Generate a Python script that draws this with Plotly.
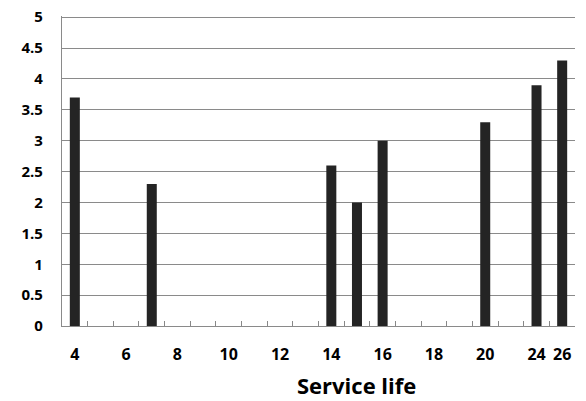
import plotly.graph_objects as go

categories = ["4", "5", "6", "7", "8", "9", "10", "11", "12", "13", "14", "15",
              "16", "17", "18", "19", "20", "22", "24", "26"]
bar_x = ["4", "7", "14", "15", "16", "20", "24", "26"]
bar_y = [3.7, 2.3, 2.6, 2.0, 3.0, 3.3, 3.9, 4.3]
tick_labels = ["4", "", "6", "", "8", "", "10", "", "12", "", "14", "", "16", "",
               "18", "", "20", "", "24", "26"]
x_title = "Service life"

fig = go.Figure(go.Bar(x=bar_x, y=bar_y, marker=dict(color="#242424", line=dict(width=0))))

font_family = "Open Sans, Lato, sans-serif"
fig.update_layout(
    width=578, height=393,
    margin=dict(l=54, r=11, t=8, b=75, autoexpand=False),
    paper_bgcolor="white", plot_bgcolor="white",
    bargap=0.61,
    showlegend=False,
    font=dict(family=font_family, color="black"),
    annotations=[dict(
        text=x_title, xref="paper", yref="paper", x=0.575, y=-0.19,
        xanchor="center", yanchor="middle", showarrow=False,
        font=dict(size=22, family=font_family, weight="bold", color="black"),
    )],
)
fig.update_xaxes(
    type="category", automargin=False,
    categoryorder="array", categoryarray=categories,
    range=[-0.5, len(categories) - 0.5],
    tickmode="array", tickvals=categories, ticktext=tick_labels,
    tickson="boundaries", ticks="inside", ticklen=5, tickcolor="#888888",
    showline=True, linecolor="#8a8a8a", linewidth=1.2,
    tickangle=0,
    ticklabelstandoff=14,
    tickfont=dict(size=16, family=font_family, weight="bold"),
    showgrid=False,
)
fig.update_yaxes(
    automargin=False,
    range=[0, 5.02], dtick=0.5, tick0=0,
    showgrid=True, gridcolor="#8a8a8a", gridwidth=1,
    showline=True, linecolor="#8a8a8a", linewidth=1.2,
    zeroline=False,
    ticks="", ticklabelstandoff=15, ticklabeloverflow="allow",
    tickfont=dict(size=15, family=font_family, weight="bold"),
)
fig.write_html("out.html")
